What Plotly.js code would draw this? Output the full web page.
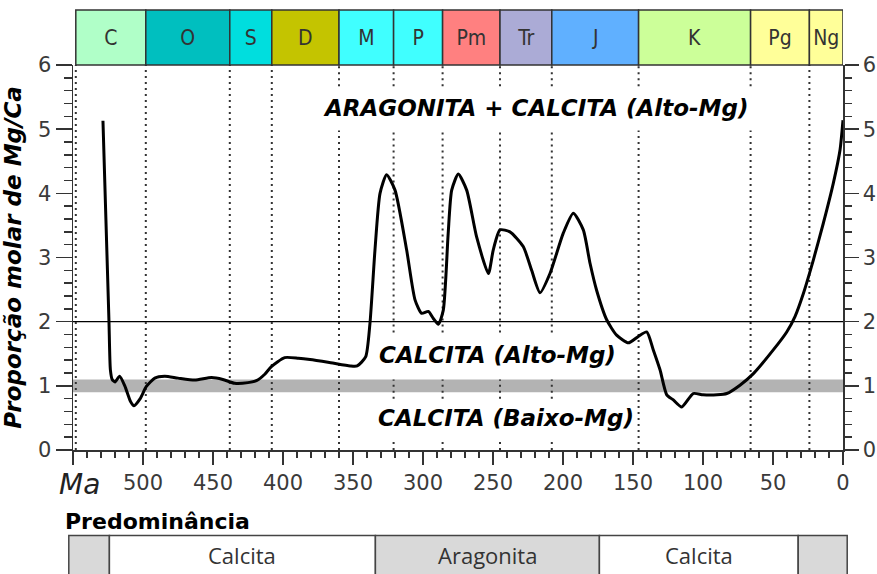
<!DOCTYPE html>
<html><head><meta charset="utf-8">
<script src="https://cdn.plot.ly/plotly-3.0.1.min.js"></script>
<style>html,body{margin:0;padding:0;background:#fff}</style>
</head><body><div id="chart" style="width:877px;height:574px"></div>
<script>
// ---------- DATA ----------
const ageMa = [528.6,526.5,524.3,523.3,522,520,516.7,513,509,506.4,502,497.6,491.6,484.5,475,463,451,443,434.5,425,419,413,408.3,398.8,389,380.7,366,352,347,341,337.9,334.3,330.7,326,320,311.7,305.7,301,296.2,292.6,289,285.5,282,279.5,274.8,268.8,261.7,253.3,249.8,245,237.9,228.4,222.4,216.4,209.3,199.8,192.6,185.5,180.7,176,168.8,161.7,153.3,146.2,140.2,135.5,130.7,125.9,121.2,115.2,107,100,90,83,73.6,64,49.8,40.2,34.3,28.3,21.2,14.1,6.9,2.1,0];
const mgCa = [5.13,3.6,2.0,1.25,1.10,1.06,1.15,1.0,0.76,0.69,0.80,0.99,1.12,1.15,1.12,1.09,1.13,1.10,1.04,1.05,1.08,1.18,1.30,1.44,1.43,1.41,1.36,1.31,1.31,1.45,1.97,3.12,4.0,4.29,4.05,3.12,2.34,2.13,2.16,2.05,1.96,2.18,3.38,4.05,4.30,4.05,3.32,2.75,3.12,3.43,3.40,3.17,2.80,2.45,2.75,3.38,3.69,3.43,2.91,2.49,2.03,1.79,1.67,1.77,1.84,1.56,1.25,0.86,0.78,0.67,0.88,0.86,0.86,0.88,1.01,1.19,1.56,1.84,2.08,2.44,2.96,3.53,4.16,4.68,5.14];

const periodNames = ['C','O','S','D','M','P','Pm','Tr','J','K','Pg','Ng'];
const periodStart = [548,498,438,408,360,321,286,245,208,146,66,24];
const periodEnd   = [498,438,408,360,321,286,245,208,146,66,24,0];

const predomLabels = ['', 'Calcita', 'Aragonita', 'Calcita', ''];
const predomStart  = [553,524,334,174,32];
const predomEnd    = [524,334,174,32,-3];

const xTickVals = [550,500,450,400,350,300,250,200,150,100,50,0];
const xTickText = ['','500','450','400','350','300','250','200','150','100','50','0'];
const yTickVals = [0,1,2,3,4,5,6];

const regionLabels = ['ARAGONITA + CALCITA (Alto-Mg)', 'CALCITA (Alto-Mg)', 'CALCITA (Baixo-Mg)'];
const regionLabelMa = [220, 247, 241];
const regionLabelMgCa = [5.33, 1.48, 0.50];

// ---------- STYLE ----------
const periodColors = ['#b0ffc8','#00bfbf','#00dede','#c4c400','#40ffff','#40ffff','#ff8080','#ababd6','#60b0ff','#ccff99','#ffff99','#ffff99'];
const predomColors = ['#d9d9d9','#ffffff','#d9d9d9','#ffffff','#d9d9d9'];
const W = 877, H = 574;
const px = v => v / W, py = v => 1 - v / H;
const tickFont = {family: 'DejaVu Sans', size: 21, color: '#3a3a3a'};
const boldItalic = {family: 'DejaVu Sans', size: 23, color: '#000', weight: 'bold', style: 'italic'};

// text boxes where dotted lines are interrupted (Ma range, Mg/Ca range)
const gapBoxes = [[375, 64, 4.98, 5.67], [340, 190, 1.10, 1.83], [340, 190, 0.15, 0.80]];

const traces = [
  {x: ageMa, y: mgCa, type: 'scatter', mode: 'lines', xaxis: 'x', yaxis: 'y',
   line: {color: '#000', width: 3, shape: 'spline', smoothing: 0.6}, hoverinfo: 'skip'},
  {x: [], y: [], type: 'scatter', mode: 'lines', xaxis: 'x', yaxis: 'y4', hoverinfo: 'skip'},
  {type: 'bar', orientation: 'h', xaxis: 'x', yaxis: 'y3',
   y: periodNames.map(() => 0.5), base: periodEnd, x: periodStart.map((s, i) => s - periodEnd[i]),
   width: periodNames.map(() => 1),
   marker: {color: periodColors, line: {color: '#333', width: 1.5}},
   text: periodNames, textposition: 'inside', insidetextanchor: 'middle', textangle: 0,
   constraintext: 'none',
   textfont: {family: 'Liberation Sans Narrow, DejaVu Sans Condensed, sans-serif', size: 21, color: '#333'},
   hoverinfo: 'skip'},
  {type: 'bar', orientation: 'h', xaxis: 'x2', yaxis: 'y2',
   y: predomLabels.map(() => 0.5), base: predomEnd, x: predomStart.map((s, i) => s - predomEnd[i]),
   width: predomLabels.map(() => 1),
   marker: {color: predomColors, line: {color: '#444', width: 1.5}},
   hoverinfo: 'skip'}
];

const shapes = [];
shapes.push({type: 'rect', xref: 'x domain', yref: 'y', x0: 0, x1: 1, y0: 0.9, y1: 1.1,
  fillcolor: '#b3b3b3', line: {width: 0}, layer: 'below'});
shapes.push({type: 'line', xref: 'x domain', yref: 'y', x0: 0, x1: 1, y0: 2, y1: 2,
  line: {color: '#000', width: 1.2}, layer: 'below'});
periodStart.forEach(b => {
  let segs = [[0, 6]];
  gapBoxes.forEach(g => {
    if (b <= g[0] && b >= g[1]) {
      const out = [];
      segs.forEach(s => {
        if (g[3] <= s[0] || g[2] >= s[1]) { out.push(s); return; }
        if (g[2] > s[0]) out.push([s[0], g[2]]);
        if (g[3] < s[1]) out.push([g[3], s[1]]);
      });
      segs = out;
    }
  });
  segs.forEach(s => shapes.push({type: 'line', xref: 'x', yref: 'y', x0: b, x1: b, y0: s[0], y1: s[1],
    line: {color: '#333', width: 2, dash: '2px,4px'}, layer: 'below'}));
});

const annotations = regionLabels.map((t, i) => ({
  text: t, x: regionLabelMa[i], y: regionLabelMgCa[i], xref: 'x', yref: 'y',
  showarrow: false, font: boldItalic, xanchor: 'center', yanchor: 'middle'}));
predomLabels.forEach((t, i) => {
  if (!t) return;
  annotations.push({text: t, xref: 'x2', yref: 'paper', x: (predomStart[i] + predomEnd[i]) / 2, y: py(555),
    showarrow: false, font: {family: 'Open Sans', size: 22, color: '#333'}, xanchor: 'center', yanchor: 'middle'});
});
annotations.push({text: 'Ma', xref: 'paper', yref: 'paper', x: px(79), y: py(484), showarrow: false,
  font: {family: 'DejaVu Sans', size: 28, color: '#222', style: 'italic'}, xanchor: 'center', yanchor: 'middle'});
annotations.push({text: 'Predominância', xref: 'paper', yref: 'paper', x: px(63), y: py(521), showarrow: false,
  font: {family: 'DejaVu Sans', size: 22, color: '#000', weight: 'bold'}, xanchor: 'left', yanchor: 'middle'});

const yCommon = {range: [0, 6], tickmode: 'array', tickvals: yTickVals, ticks: 'outside', tickwidth: 1.5,
  tickcolor: '#333', showline: true, linecolor: '#333', linewidth: 1.5, showgrid: false, zeroline: false,
  tickfont: tickFont, fixedrange: true};

const layout = {
  width: W, height: H, margin: {l: 0, r: 0, t: 0, b: 0}, paper_bgcolor: '#fff', plot_bgcolor: 'rgba(0,0,0,0)',
  showlegend: false, hovermode: false, barmode: 'overlay', bargap: 0,
  xaxis: {domain: [px(73), px(843)], range: [550, 0], anchor: 'y', tickmode: 'array', tickvals: xTickVals,
    ticktext: xTickText, ticks: 'outside', ticklen: 13, tickwidth: 1.5, tickcolor: '#333',
    minor: {dtick: 10, tick0: 0, ticks: 'outside', ticklen: 6, tickwidth: 1.5, tickcolor: '#333'},
    showline: true, linecolor: '#333', linewidth: 1.5, showgrid: false, zeroline: false,
    tickfont: tickFont, fixedrange: true},
  yaxis: Object.assign({}, yCommon, {domain: [py(450), py(65)], anchor: 'x', side: 'left', ticklen: 16,
    minor: {dtick: 0.2, tick0: 0, ticks: 'outside', ticklen: 8, tickwidth: 1.5, tickcolor: '#333'},
    title: {text: 'Proporção molar de Mg/Ca', font: boldItalic, standoff: 12}}),
  yaxis4: Object.assign({}, yCommon, {overlaying: 'y', anchor: 'x', side: 'right', ticklen: 14,
    minor: {dtick: 0.2, tick0: 0, ticks: 'outside', ticklen: 7, tickwidth: 1.5, tickcolor: '#333'}}),
  yaxis3: {domain: [py(67), py(8)], anchor: 'x', range: [-2/55, 57/55], visible: false, fixedrange: true},
  xaxis2: {domain: [px(66), px(850)], range: [555, -5], anchor: 'y2', visible: false, fixedrange: true},
  yaxis2: {domain: [0, py(533)], anchor: 'x2', range: [0.2, 1.05], visible: false, fixedrange: true},
  shapes: shapes, annotations: annotations
};

Plotly.newPlot('chart', traces, layout, {displayModeBar: false, staticPlot: true});
</script></body></html>
